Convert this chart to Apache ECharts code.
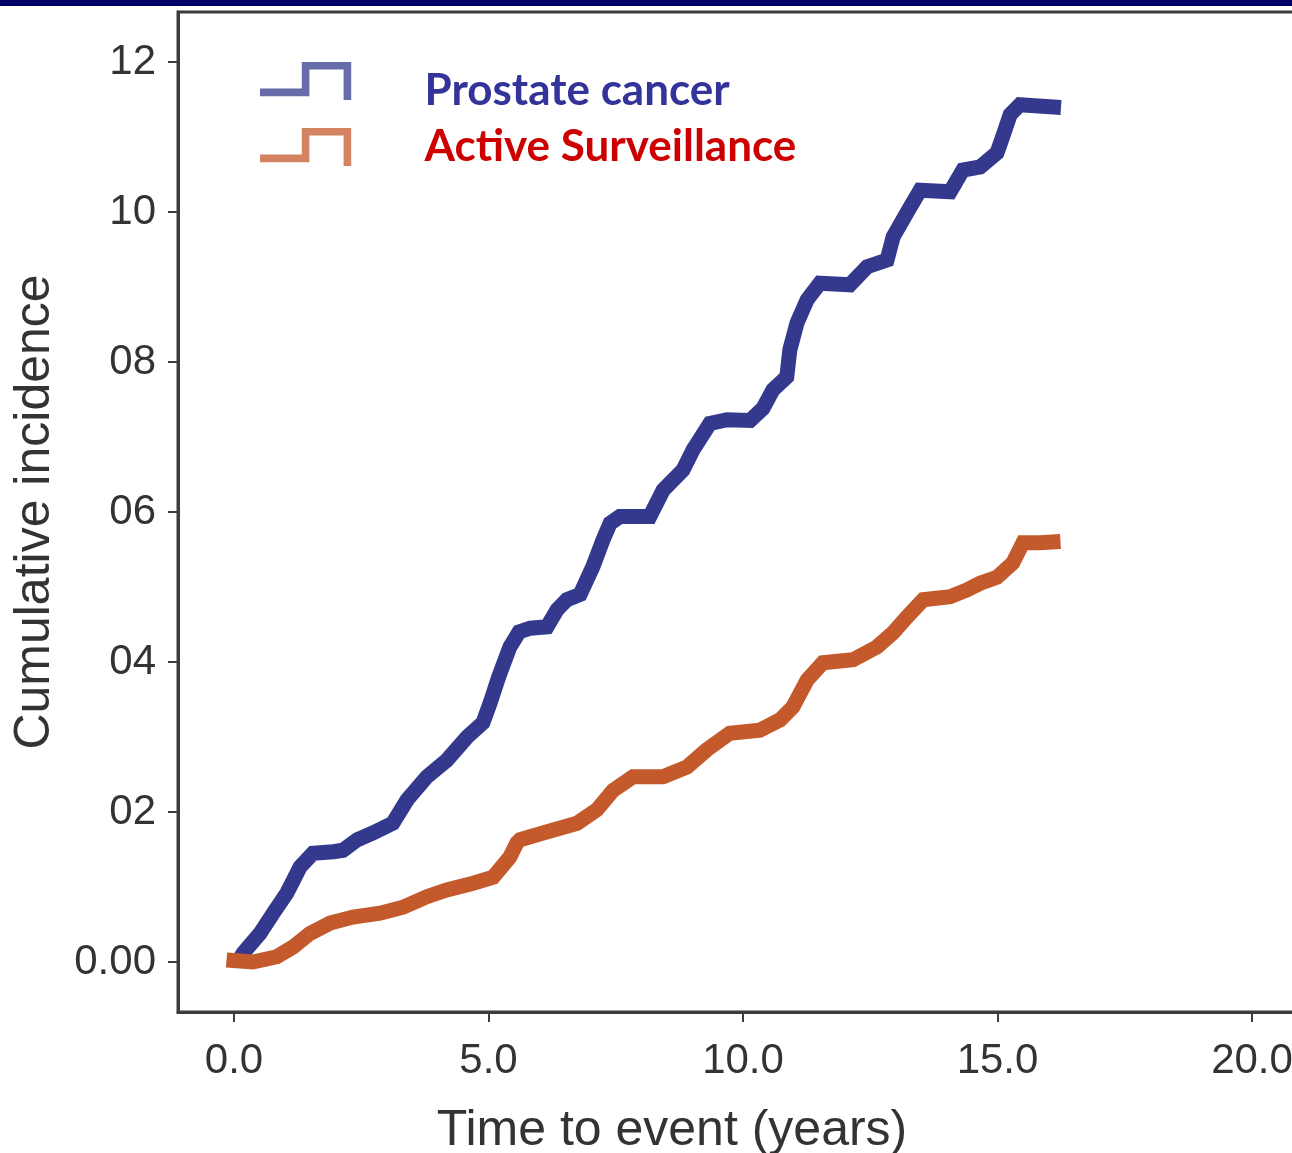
<!DOCTYPE html>
<html><head><meta charset="utf-8">
<script src="https://cdn.jsdelivr.net/npm/echarts@6/dist/echarts.min.js"></script>
<style>html,body{margin:0;padding:0;background:#fff;overflow:hidden}#c{width:1292px;height:1153px}</style>
</head><body><div id="c"></div>
<script>
const seriesNames = ['Prostate cancer', 'Active Surveillance'];
const xTickValues = [0, 5, 10, 15, 20];
const xTickLabels = ['0.0', '5.0', '10.0', '15.0', '20.0'];
const yTickValues = [0, 2, 4, 6, 8, 10, 12];
const yTickLabels = ['0.00', '02', '04', '06', '08', '10', '12'];

const prostateTime = [0.12,0.18,0.51,0.77,1.04,1.3,1.55,1.95,2.14,2.42,2.73,3.12,3.4,3.79,4.18,4.58,4.89,5.03,5.2,5.42,5.6,5.82,6.15,6.35,6.54,6.8,7.05,7.25,7.39,7.58,8.17,8.43,8.82,9.02,9.35,9.69,10.14,10.39,10.59,10.86,10.92,11.06,11.26,11.51,12.1,12.44,12.83,12.95,13.22,13.48,14.07,14.32,14.66,14.99,15.1,15.25,15.44,16.1];
const prostateCI   = [0.05,0.12,0.38,0.65,0.92,1.27,1.45,1.47,1.49,1.63,1.72,1.85,2.16,2.47,2.69,3.0,3.19,3.45,3.8,4.2,4.4,4.45,4.47,4.7,4.83,4.9,5.27,5.63,5.85,5.94,5.94,6.29,6.56,6.83,7.18,7.23,7.22,7.38,7.63,7.8,8.16,8.52,8.83,9.05,9.03,9.27,9.36,9.67,9.99,10.29,10.27,10.56,10.6,10.79,11.0,11.3,11.43,11.4];

const survTime = [0,0.37,0.84,1.16,1.49,1.89,2.34,2.87,3.32,3.79,4.18,4.7,5.09,5.42,5.56,5.62,6.07,6.74,7.13,7.45,7.84,8.43,8.9,9.29,9.74,10.33,10.73,10.98,11.26,11.57,12.16,12.63,12.95,13.22,13.54,14.07,14.4,14.66,14.99,15.3,15.5,15.83,16.09];
const survCI   = [0.02,0.0,0.07,0.2,0.38,0.52,0.6,0.65,0.73,0.87,0.96,1.05,1.13,1.4,1.59,1.63,1.72,1.85,2.03,2.29,2.47,2.47,2.6,2.83,3.05,3.09,3.23,3.4,3.76,3.99,4.03,4.2,4.39,4.6,4.83,4.87,4.96,5.05,5.13,5.32,5.59,5.59,5.6];

const zip = (a, b) => a.map((v, i) => [v, b[i]]);
const stepIcon = 'path://M0,28 L44,28 L44,0 L96,0 L96,40 L88,40 L88,8 L52,8 L52,36 L0,36 Z';
// same step glyph, with an empty point below it so the label sits lower than the glyph
const stepIconHigh = 'path://M0,28 L44,28 L44,0 L96,0 L96,40 L88,40 L88,8 L52,8 L52,36 L0,36 Z M0,60 L0,60 Z';
const axisColor = '#3c3c3c';
const labelFont = 'Liberation Sans, Arial, sans-serif';
const legendBase = {orient: 'vertical', left: 255, itemWidth: 96, itemStyle: {opacity: 0.75}};
const legendText = {fontFamily: 'Lato, sans-serif', fontWeight: 'bold', fontSize: 44, lineHeight: 40};

const chart = echarts.init(document.getElementById('c'), null, {renderer: 'canvas'});
chart.setOption({
  backgroundColor: '#ffffff',
  animation: false,
  graphic: [{type: 'rect', left: 0, top: 0, shape: {width: 1292, height: 6}, style: {fill: '#000066'}, z: 100}],
  grid: {left: 178, top: 12, width: 1130, height: 1000, show: true, borderColor: axisColor, borderWidth: 3,
    containLabel: false, outerBoundsMode: 'none'},
  legend: [
    Object.assign({}, legendBase, {top: 57, itemHeight: 57,
      textStyle: Object.assign({}, legendText, {color: '#333399', padding: [0, 0, 0, 66]}),
      data: [{name: seriesNames[0], icon: stepIconHigh}]}),
    Object.assign({}, legendBase, {top: 120, itemHeight: 38,
      textStyle: Object.assign({}, legendText, {color: '#cc0000', padding: [0, 0, 0, 66]}),
      data: [{name: seriesNames[1], icon: stepIcon}]})
  ],
  xAxis: {
    type: 'value', min: -1.1, max: 21.1,
    splitLine: {show: false},
    axisLine: {show: true, onZero: false, lineStyle: {color: axisColor, width: 3}},
    axisTick: {show: true, customValues: xTickValues, length: 10, lineStyle: {color: axisColor, width: 2}},
    axisLabel: {customValues: xTickValues, margin: 28, fontSize: 42, color: '#333', fontFamily: labelFont,
      formatter: v => xTickLabels[xTickValues.indexOf(v)]},
    name: 'Time to event (years)', nameLocation: 'middle', nameGap: 94,
    nameTextStyle: {fontSize: 50, color: '#333', fontFamily: labelFont, padding: [0, 142, 0, 0]}
  },
  yAxis: {
    type: 'value', min: -2/3, max: 12 + 2/3,
    splitLine: {show: false},
    axisLine: {show: true, onZero: false, lineStyle: {color: axisColor, width: 3}},
    axisTick: {show: true, customValues: yTickValues, length: 10, lineStyle: {color: axisColor, width: 2}},
    axisLabel: {customValues: yTickValues, margin: 22, fontSize: 42, color: '#333', fontFamily: labelFont,
      formatter: v => yTickLabels[yTickValues.indexOf(v)]},
    name: 'Cumulative incidence', nameLocation: 'middle', nameGap: 118,
    nameTextStyle: {fontSize: 50, color: '#333', fontFamily: labelFont}
  },
  series: [
    {name: seriesNames[0], type: 'line', data: zip(prostateTime, prostateCI), showSymbol: false, symbol: 'none',
      color: '#34398e', lineStyle: {width: 15, cap: 'square', join: 'miter'}},
    {name: seriesNames[1], type: 'line', data: zip(survTime, survCI), showSymbol: false, symbol: 'none',
      color: '#c45a2c', lineStyle: {width: 15, cap: 'square', join: 'miter'}}
  ]
});
</script></body></html>
